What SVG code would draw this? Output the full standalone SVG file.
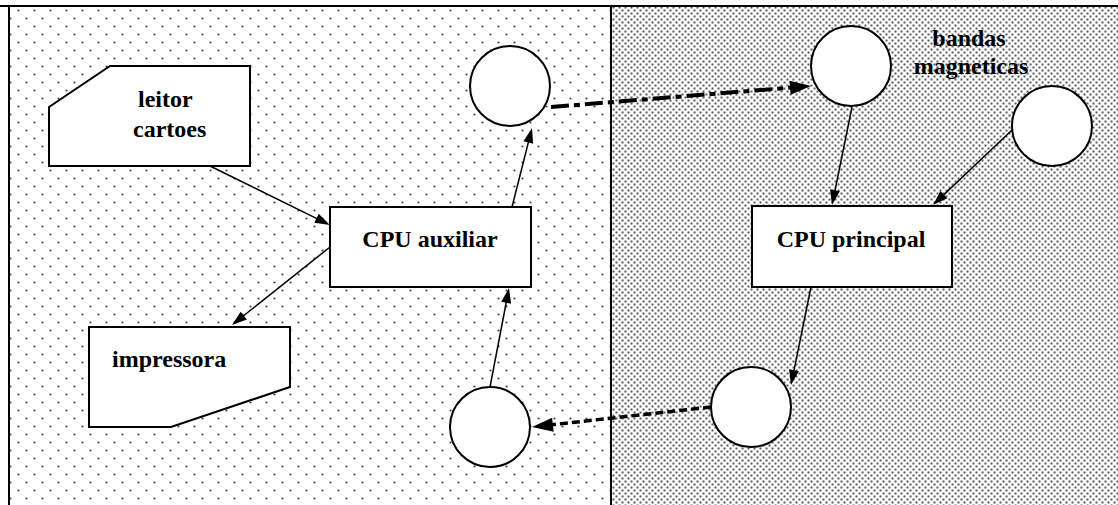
<svg xmlns="http://www.w3.org/2000/svg" width="1118" height="505" viewBox="0 0 1118 505">
<defs>
<pattern id="dotsL" x="0" y="0" width="16" height="16" patternUnits="userSpaceOnUse">
<rect width="16" height="16" fill="#ffffff"/>
<circle cx="2.5" cy="10.5" r="1.1" fill="#444"/>
<circle cx="10.5" cy="2.5" r="1.1" fill="#444"/>
</pattern>
<pattern id="dotsR" x="0" y="0" width="6" height="6" patternUnits="userSpaceOnUse">
<rect width="6" height="6" fill="#ffffff"/>
<rect x="0.5" y="0.5" width="2" height="2" fill="#555"/>
<rect x="3.5" y="3.5" width="2" height="2" fill="#555"/>
</pattern>
<marker id="arr" markerUnits="userSpaceOnUse" markerWidth="14" markerHeight="10" refX="0" refY="5" orient="auto" overflow="visible">
<path d="M-1,0 L14,5 L-1,10 z" fill="#000"/>
</marker>
<marker id="arrBig" markerUnits="userSpaceOnUse" markerWidth="20" markerHeight="14" refX="0" refY="7" orient="auto" overflow="visible">
<path d="M-1,0 L20,7 L-1,14 z" fill="#000"/>
</marker>
</defs>
<style>
.node{fill:#fff;stroke:#000;stroke-width:2}
.lbl{font-family:"Liberation Serif","Times New Roman",serif;font-weight:bold;font-size:24px;fill:#000}
.conn{stroke:#000;stroke-width:1.5;fill:none}
</style>
<rect width="1118" height="505" fill="#fff"/>
<g id="background">
<rect x="9" y="6" width="602" height="499" fill="url(#dotsL)"/>
<rect x="611" y="6" width="507" height="499" fill="url(#dotsR)"/>
<line x1="0" y1="6" x2="1118" y2="6" stroke="#000" stroke-width="2"/>
<line x1="9" y1="5" x2="9" y2="505" stroke="#000" stroke-width="2"/>
<line x1="611" y1="5" x2="611" y2="505" stroke="#000" stroke-width="2"/>
</g>
<g id="connectors">
<line class="conn" x1="210" y1="166" x2="317.4" y2="218.8" marker-end="url(#arr)"/>
<line class="conn" x1="330" y1="247" x2="242.95" y2="316.28" marker-end="url(#arr)"/>
<line class="conn" x1="512" y1="207" x2="528.56" y2="141.57" marker-end="url(#arr)"/>
<line class="conn" x1="490" y1="387" x2="506.36" y2="301.75" marker-end="url(#arr)"/>
<line class="conn" x1="852" y1="107" x2="834.8" y2="191.28" marker-end="url(#arr)"/>
<line class="conn" x1="1012" y1="130" x2="943.15" y2="195.36" marker-end="url(#arr)"/>
<line class="conn" x1="811" y1="287" x2="793.8" y2="371.28" marker-end="url(#arr)"/>
<line x1="551" y1="107" x2="791.07" y2="87.61" stroke="#000" stroke-width="4" stroke-dasharray="18 5 6 5" fill="none" marker-end="url(#arrBig)"/>
<line x1="711" y1="407" x2="551.88" y2="424.78" stroke="#000" stroke-width="3.5" stroke-dasharray="8 4" fill="none" marker-end="url(#arrBig)"/>
</g>
<g id="leitor">
<polygon class="node" points="49,107 110,66 250,66 250,166 49,166"/>
<text class="lbl" x="138" y="107">leitor</text>
<text class="lbl" x="133" y="137">cartoes</text>
</g>
<g id="impressora">
<polygon class="node" points="89,327 290,327 290,387 171,427 89,427"/>
<text class="lbl" x="112" y="367">impressora</text>
</g>
<g id="cpu-auxiliar">
<rect class="node" x="330" y="207" width="201" height="80"/>
<text class="lbl" x="430" y="247" text-anchor="middle">CPU auxiliar</text>
</g>
<g id="cpu-principal">
<rect class="node" x="752" y="206" width="200" height="81"/>
<text class="lbl" x="851" y="247" text-anchor="middle">CPU principal</text>
</g>
<g id="circle-aux-top">
<circle class="node" cx="510" cy="86" r="40"/>
</g>
<g id="circle-aux-bottom">
<circle class="node" cx="490" cy="427" r="40"/>
</g>
<g id="bandas">
<circle class="node" cx="851" cy="66" r="40"/>
<text class="lbl" x="969" y="46" text-anchor="middle">bandas</text>
<text class="lbl" x="971" y="74" text-anchor="middle">magneticas</text>
</g>
<g id="circle-right">
<circle class="node" cx="1052" cy="126" r="40"/>
</g>
<g id="circle-principal-bottom">
<circle class="node" cx="751" cy="407" r="40"/>
</g>
</svg>
